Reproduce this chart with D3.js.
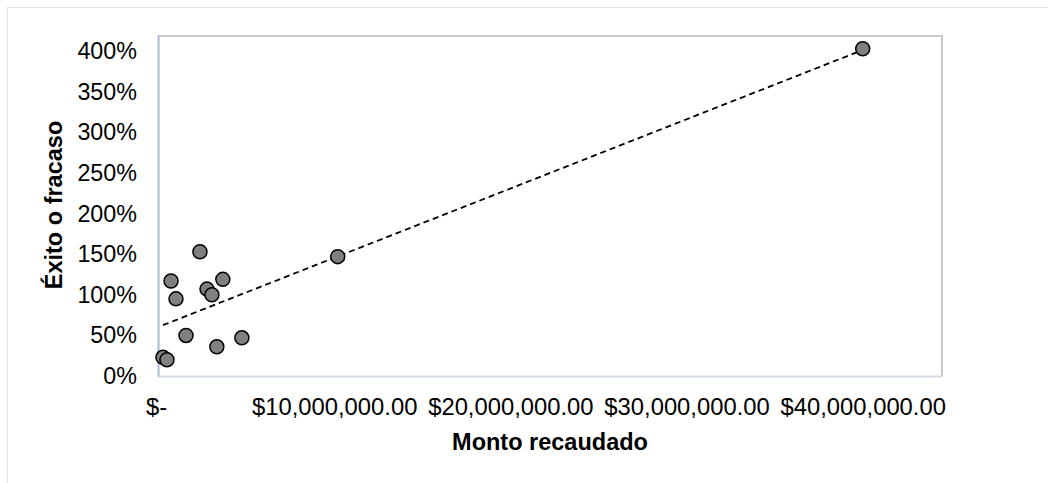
<!DOCTYPE html>
<html>
<head>
<meta charset="utf-8">
<script src="https://cdn.jsdelivr.net/npm/d3@7"></script>
<style>
  html, body { margin: 0; padding: 0; background: #fff; }
  svg { display: block; font-family: "Liberation Sans", Arial, sans-serif; }
</style>
</head>
<body>
<svg id="chart" width="1048" height="483"></svg>
<script>
// Amount raised (USD) per campaign and its success ratio (1 = 100%)
const montoRecaudado = [280000, 510000, 740000, 1020000, 1590000, 2380000, 2780000, 3060000, 3340000, 3680000, 4760000, 10200000, 40000000];
const exitoFracaso   = [0.23, 0.20, 1.17, 0.95, 0.50, 1.53, 1.07, 1.00, 0.36, 1.19, 0.47, 1.47, 4.03];

const xTicks = [0, 10000000, 20000000, 30000000, 40000000];
const yTicks = [0, 0.5, 1, 1.5, 2, 2.5, 3, 3.5, 4];
const xTitle = "Monto recaudado";
const yTitle = "Éxito o fracaso";

const svg = d3.select("#chart");
const W = 1048, H = 483;
const plot = { left: 158, right: 942, top: 36, bottom: 376 };
const FONT = "'Liberation Sans', Arial, sans-serif";

// Chart area border
svg.append("rect")
  .attr("x", 7.5).attr("y", 7.5)
  .attr("width", W + 20).attr("height", H + 20)
  .attr("fill", "#fff").attr("stroke", "#dfe3ea").attr("stroke-width", 1);

const x = d3.scaleLinear().domain([0, 44500000]).range([plot.left, plot.right]);
const y = d3.scaleLinear().domain([0, 4.187]).range([plot.bottom, plot.top]);

// Plot area frame
svg.append("line").attr("x1", plot.left).attr("x2", plot.right + 1)
  .attr("y1", plot.top).attr("y2", plot.top)
  .attr("stroke", "#c9c9c9").attr("stroke-width", 2);
svg.append("line").attr("x1", plot.right).attr("x2", plot.right)
  .attr("y1", plot.top).attr("y2", plot.bottom)
  .attr("stroke", "#c9c9c9").attr("stroke-width", 2);

const fmtMoney = v => v === 0 ? "$-" : "$" + d3.format(",.2f")(v);
const fmtPct = d3.format(".0%");

// X axis
const xAxis = svg.append("g")
  .attr("transform", `translate(0,${plot.bottom})`)
  .call(d3.axisBottom(x).tickValues(xTicks).tickFormat(fmtMoney).tickSize(0).tickPadding(22));
xAxis.select(".domain").attr("stroke", "#d3d9e4").attr("stroke-width", 2);
xAxis.selectAll("text")
  .attr("font-size", 23.8).attr("fill", "#000")
  .attr("font-family", FONT)
  .attr("dx", d => d === 0 ? -2 : 0);

// Y axis
const yAxis = svg.append("g")
  .attr("transform", `translate(${plot.left},0)`)
  .call(d3.axisLeft(y).tickValues(yTicks).tickFormat(fmtPct).tickSize(0).tickPadding(21));
yAxis.select(".domain").attr("stroke", "#aeb8cf").attr("stroke-width", 2);
yAxis.selectAll("text")
  .attr("font-size", 23.3).attr("fill", "#000")
  .attr("font-family", FONT);

// Axis titles
svg.append("text")
  .attr("x", (plot.left + plot.right) / 2).attr("y", 450)
  .attr("text-anchor", "middle")
  .attr("font-size", 23.5).attr("font-weight", "bold")
  .text(xTitle);
svg.append("text")
  .attr("transform", `translate(62,${(plot.top + plot.bottom) / 2 - 1}) rotate(-90)`)
  .attr("text-anchor", "middle")
  .attr("font-size", 23.5).attr("font-weight", "bold")
  .text(yTitle);

// Linear trendline (least squares) across the data's x range
const n = montoRecaudado.length;
const mx = d3.mean(montoRecaudado), my = d3.mean(exitoFracaso);
let sxy = 0, sxx = 0;
for (let i = 0; i < n; i++) {
  sxy += (montoRecaudado[i] - mx) * (exitoFracaso[i] - my);
  sxx += (montoRecaudado[i] - mx) ** 2;
}
const slope = sxy / sxx, intercept = my - slope * mx;
const [xmin, xmax] = d3.extent(montoRecaudado);
svg.append("line")
  .attr("x1", x(xmin)).attr("y1", y(intercept + slope * xmin))
  .attr("x2", x(xmax)).attr("y2", y(intercept + slope * xmax))
  .attr("stroke", "#000").attr("stroke-width", 1.8)
  .attr("stroke-dasharray", "6,4");

// Data points
svg.append("g").selectAll("circle")
  .data(montoRecaudado.map((m, i) => ({ m, e: exitoFracaso[i] })))
  .join("circle")
  .attr("cx", d => x(d.m)).attr("cy", d => y(d.e))
  .attr("r", 7)
  .attr("fill", "#808080").attr("stroke", "#000").attr("stroke-width", 1.5);
</script>
</body>
</html>
